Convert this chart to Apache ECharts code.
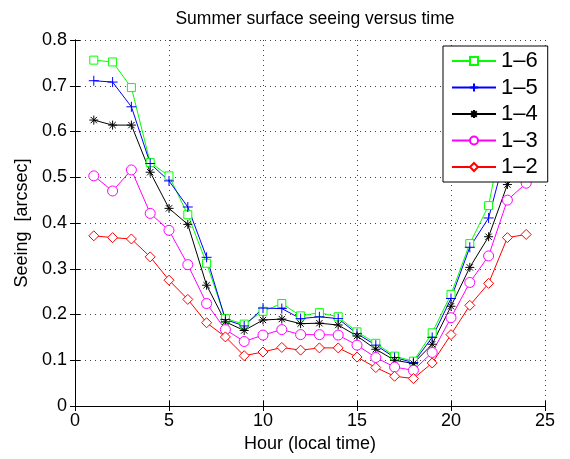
<!DOCTYPE html>
<html>
<head>
<meta charset="utf-8">
<script src="https://cdn.jsdelivr.net/npm/echarts@6/dist/echarts.min.js"></script>
<style>
  html, body { margin: 0; padding: 0; background: #fff; }
  #main { width: 570px; height: 459px; }
</style>
</head>
<body>
<div id="main"></div>
<script>
// hours 1..24
const hours = [1, 2, 3, 4, 5, 6, 7, 8, 9, 10, 11, 12, 13, 14, 15, 16, 17, 18, 19, 20, 21, 22, 23, 24]
const s16 = [0.756, 0.752, 0.696, 0.532, 0.503, 0.418, 0.312, 0.191, 0.179, 0.207, 0.224, 0.197, 0.204, 0.195, 0.162, 0.137, 0.109, 0.098, 0.160, 0.244, 0.355, 0.438, 0.65, 0.70]
const s15 = [0.711, 0.708, 0.654, 0.530, 0.492, 0.435, 0.325, 0.189, 0.175, 0.214, 0.213, 0.191, 0.195, 0.191, 0.158, 0.133, 0.106, 0.095, 0.150, 0.235, 0.347, 0.411, 0.566, 0.64]
const s14 = [0.625, 0.614, 0.614, 0.511, 0.432, 0.397, 0.264, 0.184, 0.165, 0.188, 0.190, 0.180, 0.181, 0.177, 0.153, 0.124, 0.100, 0.093, 0.135, 0.218, 0.303, 0.370, 0.484, 0.55]
const s13 = [0.503, 0.470, 0.516, 0.421, 0.384, 0.309, 0.224, 0.167, 0.141, 0.155, 0.167, 0.156, 0.156, 0.155, 0.133, 0.106, 0.085, 0.078, 0.117, 0.193, 0.270, 0.328, 0.450, 0.487]
const s12 = [0.372, 0.368, 0.365, 0.326, 0.275, 0.233, 0.182, 0.151, 0.110, 0.118, 0.128, 0.122, 0.127, 0.127, 0.107, 0.084, 0.065, 0.060, 0.094, 0.156, 0.220, 0.268, 0.368, 0.375]

const xTicks = [0, 5, 10, 15, 20, 25]
const yTicks = [0, 0.1, 0.2, 0.3, 0.4, 0.5, 0.6, 0.7, 0.8]

const plusPath = 'path://M0,5L10,5M5,0L5,10'
const starPath = 'path://M0,5L10,5M5,0L5,10M1.5,1.5L8.5,8.5M1.5,8.5L8.5,1.5'

const font = 'Liberation Sans, Arial, sans-serif'

function mk (name, data, color, symbol, size) {
  return {
    name: name,
    type: 'line',
    data: hours.map((h, i) => [h, data[i]]),
    symbol: symbol,
    symbolSize: size,
    showSymbol: true,
    lineStyle: { color: color, width: 1 },
    itemStyle: { color: symbol.indexOf('path') === 0 ? color : '#fff', borderColor: color, borderWidth: 1 },
    emphasis: { disabled: true },
    animation: false
  }
}

function axisBase () {
  return {
    axisLine: { show: true, lineStyle: { color: '#000', width: 1 } },
    axisTick: { show: true, inside: true, length: 5, lineStyle: { color: '#000' } },
    axisLabel: { show: true, color: '#000', fontSize: 18, fontFamily: font },
    splitLine: { show: false }
  }
}

const chart = echarts.init(document.getElementById('main'))
chart.setOption({
  backgroundColor: '#fff',
  animation: false,
  title: {
    text: 'Summer surface seeing versus time',
    left: 310, top: 5, textAlign: 'center',
    textStyle: { fontSize: 17.5, fontWeight: 'normal', color: '#000', fontFamily: font }
  },
  grid: { left: 75, right: 25, top: 40, bottom: 53 },
  legend: {
    left: 443, top: 46,
    orient: 'vertical',
    backgroundColor: '#fff',
    borderColor: '#000', borderWidth: 1,
    padding: [4, 10, 4, 8],
    itemWidth: 44, itemHeight: 10, itemGap: 4.5,
    textStyle: { fontSize: 22, color: '#000', fontFamily: font },
    data: ['1–6', '1–5', '1–4', '1–3', '1–2'],
    z: 10
  },
  xAxis: [
    Object.assign(axisBase(), {
      type: 'value', min: 0, max: 25, interval: 5,
      name: 'Hour (local time)', nameLocation: 'middle', nameGap: 27,
      nameTextStyle: { fontSize: 18, color: '#000', fontFamily: font },
      splitLine: { show: true, lineStyle: { color: '#444', type: [1, 4], width: 1 } },
      axisLabel: { color: '#000', fontSize: 18, fontFamily: font, margin: 6 }
    }),
    Object.assign(axisBase(), {
      type: 'value', min: 0, max: 25, interval: 5, position: 'top',
      axisLabel: { show: false }
    })
  ],
  yAxis: [
    Object.assign(axisBase(), {
      type: 'value', min: 0, max: 0.8, interval: 0.1,
      name: 'Seeing  [arcsec]', nameLocation: 'middle', nameGap: 44,
      nameTextStyle: { fontSize: 18, color: '#000', fontFamily: font },
      splitLine: { show: true, lineStyle: { color: '#444', type: [1, 4], width: 1 } },
      axisLabel: { color: '#000', fontSize: 18, fontFamily: font, margin: 8,
        formatter: v => (v === 0 ? '0' : v.toFixed(1)) }
    }),
    Object.assign(axisBase(), {
      type: 'value', min: 0, max: 0.8, interval: 0.1, position: 'right',
      axisLabel: { show: false }
    })
  ],
  series: [
    mk('1–6', s16, '#00ff00', 'rect', 8),
    mk('1–5', s15, '#0000ff', plusPath, 10),
    mk('1–4', s14, '#000000', starPath, 9),
    mk('1–3', s13, '#ff00ff', 'circle', 10),
    mk('1–2', s12, '#ff0000', 'diamond', 10)
  ]
})
</script>
</body>
</html>
